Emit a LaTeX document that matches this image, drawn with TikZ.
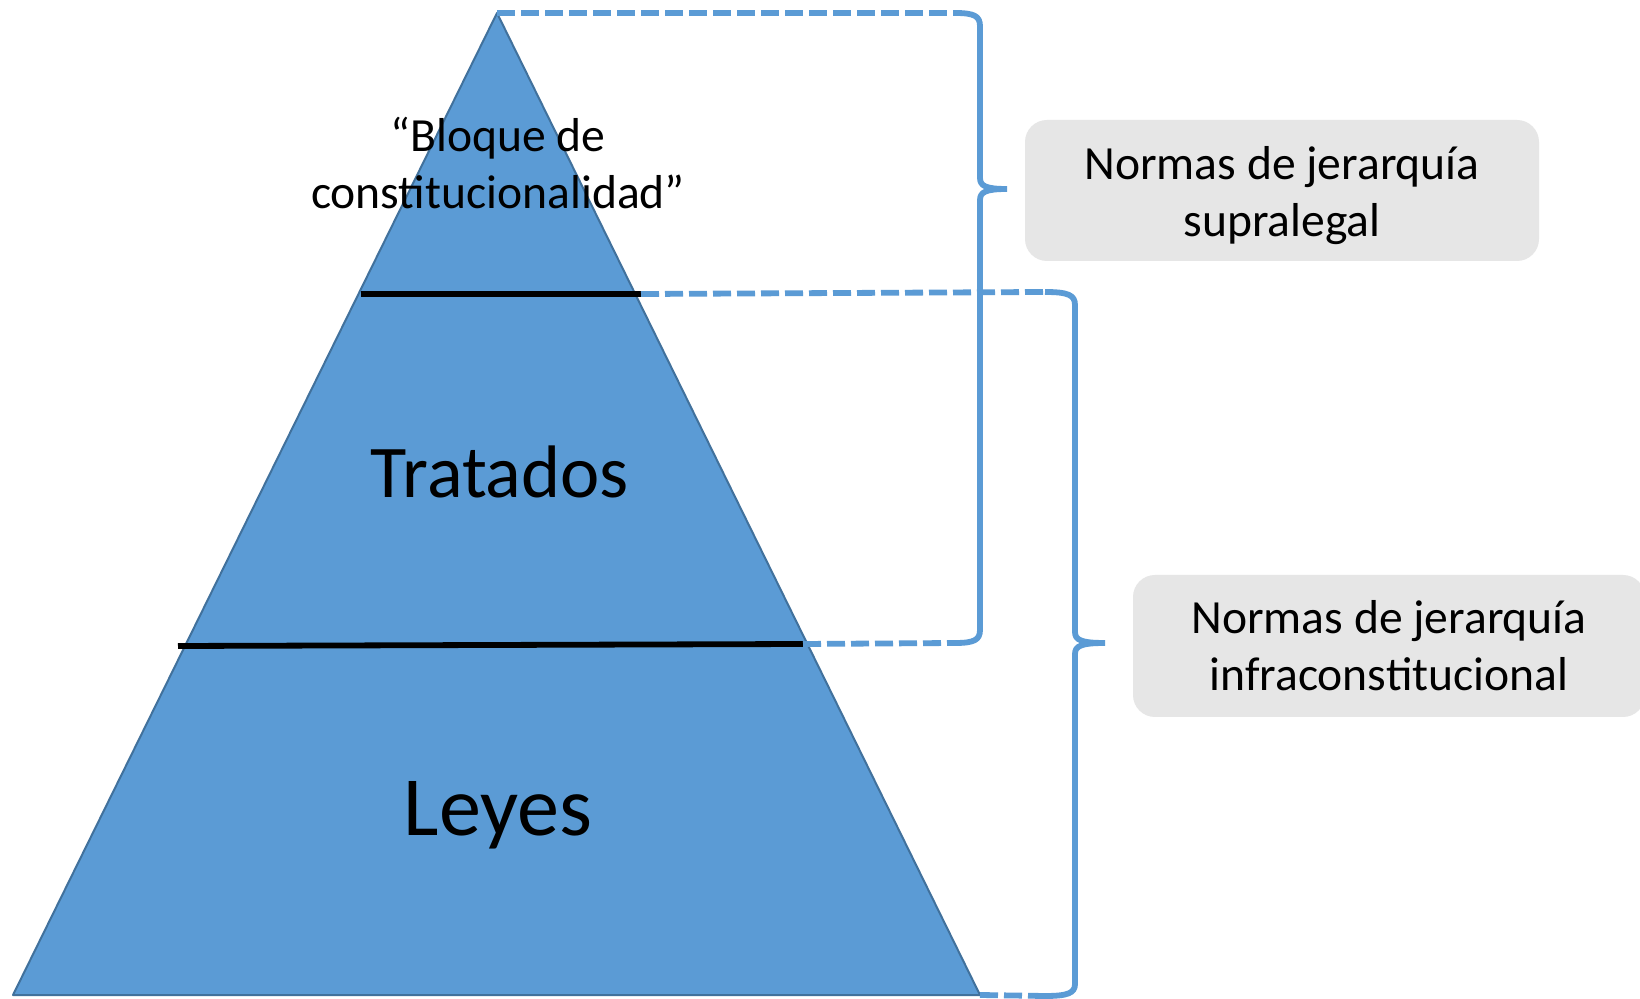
\documentclass[tikz,border=0pt]{standalone}
\usepackage{fontspec}
\setmainfont{Carlito}
\definecolor{pyblue}{HTML}{5B9BD5}
\definecolor{pyedge}{HTML}{41719C}
\definecolor{boxgray}{HTML}{E6E6E6}
\tikzset{
  bracestyle/.style={draw=pyblue, line width=2.9pt, line join=round},
  dashlink/.style={draw=pyblue, line width=2.9pt, dash pattern=on 9pt off 3pt},
  levelline/.style={draw=black, line width=2.9pt},
  labelbox/.style={fill=boxgray, rounded corners=11pt, inner sep=0pt},
  boxtext/.style={font=\fontsize{23.8}{28.5}\selectfont, align=center},
}
\begin{document}
\begin{tikzpicture}[x=0.5pt, y=-0.5pt]
\useasboundingbox[fill=white] (0,0) rectangle (1640,999);
% pyramid
\coordinate (apex) at (497,13);
\coordinate (bl) at (13,995);
\coordinate (br) at (980,995);
\fill[pyblue, draw=pyedge, line width=1pt, line join=round] (apex) -- (br) -- (bl) -- cycle;
% level lines
\coordinate (l1a) at (361,294);
\coordinate (l1b) at (641,294);
\coordinate (l2a) at (178,646);
\coordinate (l2b) at (803,644);
\draw[levelline] (l1a) -- (l1b);
\draw[levelline] (l2a) -- (l2b);
% texts
\node[boxtext] (bloque) at (498,163) {“Bloque de\\constitucionalidad”};
\node[font=\fontsize{37.2}{42}\selectfont] (tratados) at (500,472) {Tratados};
\node[font=\fontsize{42.1}{47}\selectfont] (leyes) at (498,815) {Leyes};
% brace 1
\coordinate (b1top) at (955,13);
\coordinate (b1bot) at (955,643);
\coordinate (b1tip) at (1007,189);
\draw[dashlink] (apex) -- (b1top);
\draw[dashlink] (l2b) -- (b1bot);
\draw[bracestyle] (b1top) .. controls (974,13) and (980,16) .. (980,26)
  -- (980,178) .. controls (980,186) and (986,189) .. (b1tip)
  (b1tip) .. controls (986,189) and (980,192) .. (980,200)
  -- (980,630) .. controls (980,640) and (974,643) .. (b1bot);
% brace 2
\coordinate (b2top) at (1045,292);
\coordinate (b2bot) at (1045,996);
\coordinate (b2tip) at (1105,643);
\draw[dashlink] (l1b) -- (b2top);
\draw[dashlink] (br) -- (b2bot);
\draw[bracestyle] (b2top) .. controls (1068,292) and (1075,295) .. (1075,305)
  -- (1075,632) .. controls (1075,640) and (1081,643) .. (b2tip)
  (b2tip) .. controls (1081,643) and (1075,646) .. (1075,654)
  -- (1075,984) .. controls (1075,993) and (1068,996) .. (b2bot);
% label boxes
\node[labelbox, minimum width=257pt, minimum height=70.5pt] (box1) at (1282,190.5) {};
\node[boxtext] (t1) at ([yshift=-2.5pt]box1.center) {Normas de jerarquía\\supralegal};
\node[labelbox, minimum width=256pt, minimum height=71pt] (box2) at (1389,646) {};
\node[boxtext] (t2) at (box2.center) {Normas de jerarquía\\infraconstitucional};
\end{tikzpicture}
\end{document}
